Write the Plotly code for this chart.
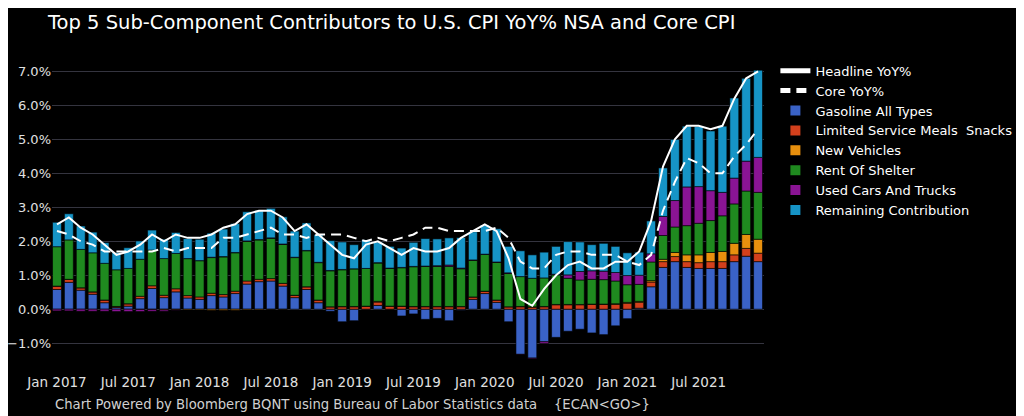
import plotly.graph_objects as go

months = [f"{m} {y}" for y in range(2017, 2022) for m in
          ["Jan", "Feb", "Mar", "Apr", "May", "Jun", "Jul", "Aug", "Sep", "Oct", "Nov", "Dec"]]

headline = [2.5, 2.7, 2.4, 2.2, 1.9, 1.6, 1.7, 1.9, 2.2, 2.0, 2.2, 2.1,
            2.1, 2.2, 2.4, 2.5, 2.8, 2.9, 2.9, 2.7, 2.3, 2.5, 2.2, 1.9,
            1.6, 1.5, 1.9, 2.0, 1.8, 1.6, 1.8, 1.7, 1.7, 1.8, 2.1, 2.3,
            2.5, 2.3, 1.5, 0.3, 0.1, 0.6, 1.0, 1.3, 1.4, 1.2, 1.2, 1.4,
            1.4, 1.7, 2.6, 4.2, 5.0, 5.4, 5.4, 5.3, 5.4, 6.2, 6.8, 7.0]

core = [2.3, 2.2, 2.0, 1.9, 1.7, 1.7, 1.7, 1.7, 1.7, 1.8, 1.7, 1.8,
        1.8, 1.8, 2.1, 2.1, 2.2, 2.3, 2.4, 2.2, 2.2, 2.1, 2.2, 2.2,
        2.2, 2.1, 2.0, 2.1, 2.0, 2.1, 2.2, 2.4, 2.4, 2.3, 2.3, 2.3,
        2.3, 2.4, 2.1, 1.4, 1.2, 1.2, 1.6, 1.7, 1.7, 1.6, 1.6, 1.6,
        1.4, 1.3, 1.6, 2.9, 3.75, 4.45, 4.3, 4.0, 4.0, 4.5, 4.85, 5.3]

gasoline = [0.58, 0.79, 0.56, 0.44, 0.19, 0.05, 0.09, 0.31, 0.61, 0.34, 0.51, 0.33,
            0.29, 0.40, 0.36, 0.46, 0.74, 0.81, 0.83, 0.68, 0.34, 0.58, 0.19, -0.06,
            -0.37, -0.34, 0.00, 0.11, 0.00, -0.20, -0.14, -0.30, -0.27, -0.34, -0.03, 0.29,
            0.46, 0.20, -0.37, -1.33, -1.44, -0.96, -0.83, -0.65, -0.59, -0.70, -0.75, -0.49,
            -0.28, 0.03, 0.66, 1.23, 1.40, 1.23, 1.20, 1.20, 1.20, 1.40, 1.56, 1.40]

limited_service = [0.10, 0.09, 0.07, 0.07, 0.08, 0.03, 0.07, 0.07, 0.08, 0.07, 0.09, 0.07,
                   0.07, 0.07, 0.07, 0.07, 0.09, 0.07, 0.07, 0.08, 0.07, 0.08, 0.08, 0.07,
                   0.07, 0.07, 0.08, 0.10, 0.08, 0.08, 0.07, 0.07, 0.07, 0.07, 0.07, 0.07,
                   0.07, 0.07, 0.07, 0.07, 0.06, 0.07, 0.13, 0.13, 0.13, 0.14, 0.14, 0.14,
                   0.17, 0.17, 0.14, 0.17, 0.15, 0.17, 0.17, 0.20, 0.20, 0.20, 0.23, 0.25]

new_vehicles = [0.00, 0.00, 0.00, 0.00, 0.00, 0.00, 0.00, -0.01, -0.01, -0.02, -0.02, -0.02,
                -0.02, -0.03, -0.03, -0.03, -0.02, -0.02, -0.01, -0.01, 0.00, 0.00, 0.00, 0.00,
                0.01, 0.01, 0.01, 0.02, 0.01, 0.01, 0.01, 0.01, 0.01, 0.01, 0.01, 0.00,
                0.00, 0.00, 0.00, 0.01, 0.01, 0.01, 0.01, 0.01, 0.01, 0.01, 0.01, 0.02,
                0.03, 0.03, 0.04, 0.07, 0.12, 0.20, 0.23, 0.27, 0.30, 0.34, 0.41, 0.41]

rent_of_shelter = [1.16, 1.16, 1.13, 1.15, 1.08, 1.08, 1.04, 1.09, 1.05, 1.08, 1.04, 1.09,
                   1.07, 1.05, 1.11, 1.13, 1.17, 1.16, 1.19, 1.15, 1.11, 1.06, 1.10, 1.06,
                   1.08, 1.11, 1.11, 1.13, 1.11, 1.13, 1.17, 1.18, 1.18, 1.18, 1.11, 1.08,
                   1.08, 1.11, 0.98, 0.88, 0.84, 0.84, 0.87, 0.77, 0.72, 0.73, 0.72, 0.67,
                   0.52, 0.50, 0.55, 0.70, 0.75, 0.86, 0.93, 0.94, 1.05, 1.16, 1.28, 1.38]

used_cars = [-0.05, -0.05, -0.06, -0.06, -0.06, -0.07, -0.07, -0.06, -0.05, -0.04, -0.01, 0.00,
             0.00, 0.01, 0.01, 0.01, 0.01, 0.01, 0.01, 0.01, 0.01, 0.01, 0.01, 0.01,
             0.01, 0.00, 0.00, 0.01, 0.01, 0.01, 0.01, 0.01, 0.02, 0.04, 0.02, 0.01,
             0.01, 0.01, 0.02, -0.01, -0.02, -0.05, 0.02, 0.10, 0.25, 0.25, 0.25, 0.25,
             0.27, 0.27, 0.24, 0.56, 0.78, 1.14, 1.08, 0.88, 0.69, 0.76, 0.88, 1.03]

remaining = [0.72, 0.77, 0.69, 0.61, 0.61, 0.51, 0.61, 0.54, 0.59, 0.57, 0.62, 0.59,
             0.63, 0.71, 0.81, 0.85, 0.86, 0.85, 0.87, 0.80, 0.77, 0.81, 0.82, 0.88,
             0.81, 0.71, 0.84, 0.61, 0.64, 0.57, 0.71, 0.81, 0.79, 0.80, 0.90, 0.83,
             0.86, 0.98, 0.78, 0.76, 0.69, 0.76, 0.82, 0.98, 0.87, 0.77, 0.82, 0.77,
             0.67, 0.68, 0.97, 1.43, 1.80, 1.79, 1.77, 1.76, 1.95, 2.36, 2.44, 2.57]

tick_labels = ["Jan 2017", "Jul 2017", "Jan 2018", "Jul 2018", "Jan 2019", "Jul 2019",
               "Jan 2020", "Jul 2020", "Jan 2021", "Jul 2021"]

bar_series = [
    ("Gasoline All Types", gasoline, "#3a62c6"),
    ("Limited Service Meals  Snacks", limited_service, "#d3401c"),
    ("New Vehicles", new_vehicles, "#e8900e"),
    ("Rent Of Shelter", rent_of_shelter, "#1f8a1f"),
    ("Used Cars And Trucks", used_cars, "#8a1494"),
    ("Remaining Contribution", remaining, "#1694c6"),
]

fig = go.Figure()
fig.add_trace(go.Scatter(x=months, y=headline, name="Headline YoY%", mode="lines",
                         line=dict(color="white", width=2)))
fig.add_trace(go.Scatter(x=months, y=core, name="Core YoY%", mode="lines",
                         line=dict(color="white", width=2, dash="10px,6px")))
for name, vals, col in bar_series:
    fig.add_trace(go.Bar(x=months, y=vals, name=name,
                         marker=dict(color=col, line=dict(color="#000000", width=0.6))))

# page body has an 8px margin, so the figure is sized to fill the rest of the window
W, H = 1016, 408
text_font = "DejaVu Sans, Verdana, sans-serif"
fig.update_layout(
    width=W, height=H,
    paper_bgcolor="black", plot_bgcolor="black",
    barmode="relative", bargap=0.25,
    margin=dict(l=44, r=260, t=55, b=44, autoexpand=False),
    title=dict(text="Top 5 Sub-Component Contributors to U.S. CPI YoY% NSA and Core CPI",
               x=40 / W, xanchor="left", xref="container",
               y=1 - 14 / H, yanchor="middle", yref="container",
               font=dict(family=text_font, size=19.5, color="white")),
    showlegend=True,
    legend=dict(x=1.016, xanchor="left", y=1.0235, yanchor="top",
                bgcolor="rgba(0,0,0,0)", traceorder="normal",
                font=dict(family=text_font, size=13, color="white"),
                itemsizing="constant"),
    font=dict(family=text_font, color="#e0e0e0"),
    annotations=[dict(text="Chart Powered by Bloomberg BQNT using Bureau of Labor Statistics data    {ECAN&lt;GO&gt;}",
                      x=1 / 712, xref="paper", xanchor="left",
                      y=-0.104, yref="paper", yanchor="middle", showarrow=False,
                      font=dict(family=text_font, size=13.2, color="#d0d0d0"))],
)
fig.update_xaxes(type="category", range=[-0.42, 59.5], tickvals=tick_labels, ticktext=tick_labels,
                 showgrid=False, zeroline=False, showline=False, ticks="", automargin=False,
                 tickfont=dict(family=text_font, size=13.5, color="#e0e0e0"))
fig.update_yaxes(range=[-1.85, 7.25], dtick=1, tickformat=".1f", ticksuffix="%",
                 showgrid=True, gridcolor="#34343f", gridwidth=1,
                 zeroline=True, zerolinecolor="#34343f", zerolinewidth=1,
                 showline=False, ticks="", automargin=False,
                 tickfont=dict(family=text_font, size=13, color="#e0e0e0"))

fig.write_html("out.html")
